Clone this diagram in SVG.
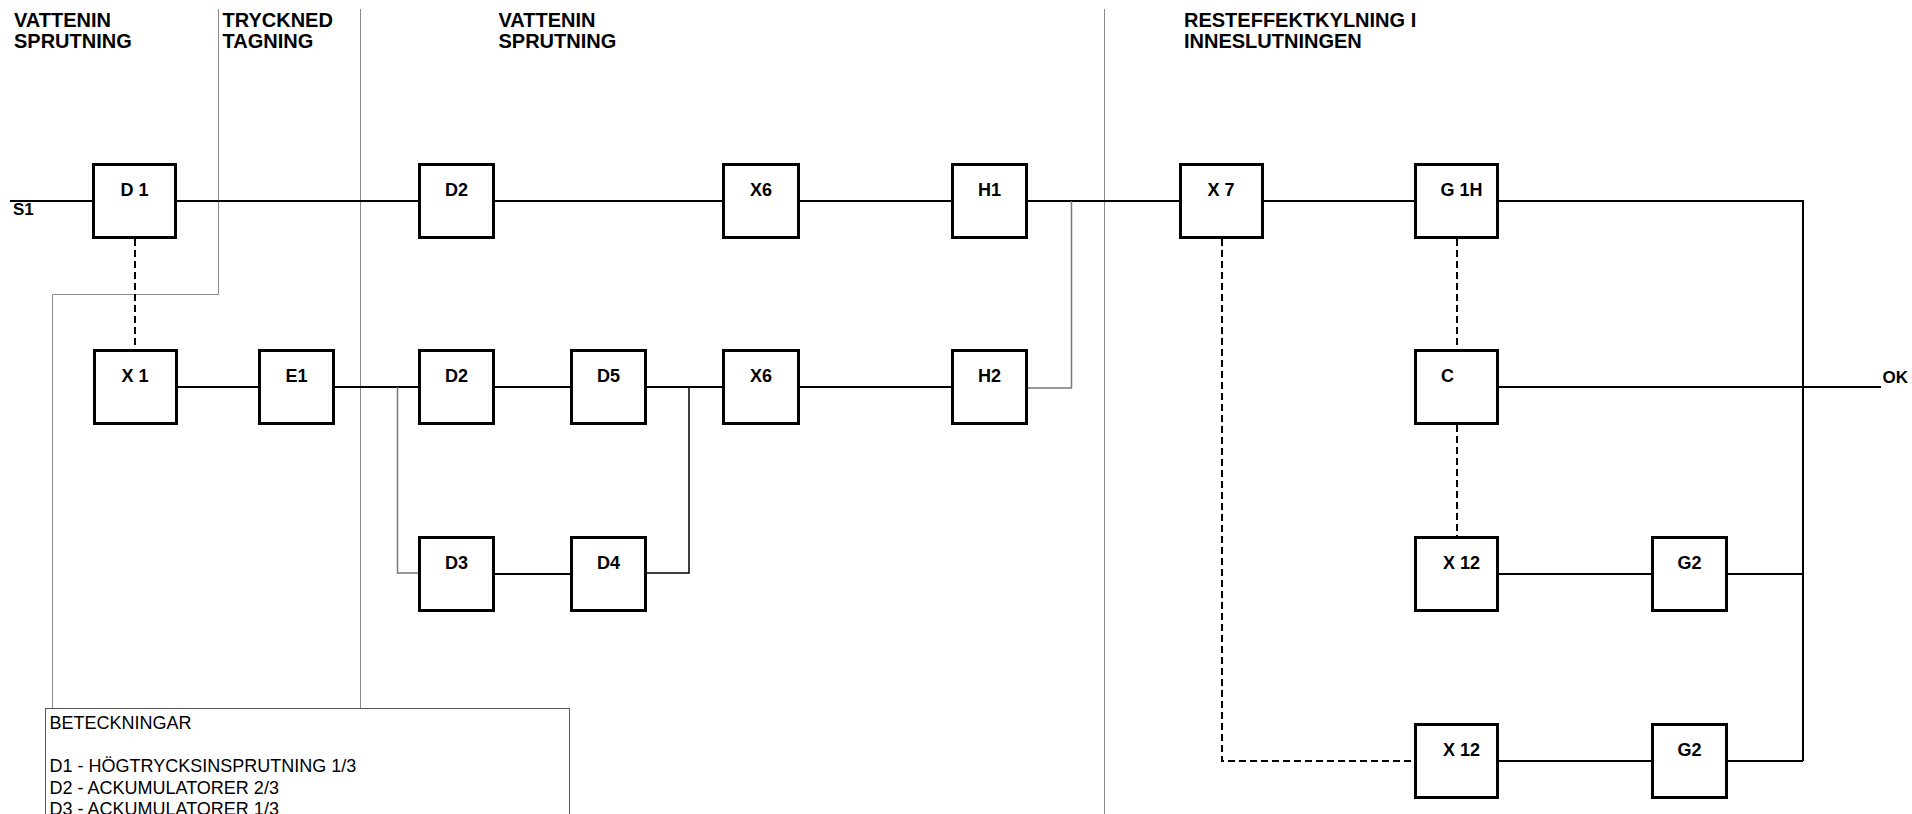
<svg xmlns="http://www.w3.org/2000/svg" width="1912" height="814" viewBox="0 0 1912 814">
  <style>
    .title { font-family: "Liberation Sans", Arial, sans-serif; font-size: 20px; font-weight: bold; fill: #000; }
    .lbl { font-family: "Liberation Sans", Arial, sans-serif; font-size: 18px; font-weight: bold; fill: #000; text-anchor: middle; }
    .tag { font-family: "Liberation Sans", Arial, sans-serif; font-size: 17px; font-weight: bold; fill: #000; }
    .legend { font-family: "Liberation Sans", Arial, sans-serif; font-size: 18px; fill: #000; }
    .box { fill: #fff; stroke: #000; stroke-width: 3; }
    .wire { fill: none; stroke: #000; stroke-width: 2; }
    .thin { fill: none; stroke: #000; stroke-width: 1.5; }
    .grey { fill: none; stroke: #777; stroke-width: 1.5; }
    .dash { fill: none; stroke: #000; stroke-width: 2; stroke-dasharray: 7 4; }
    .divider { fill: none; stroke: #8a8a8a; stroke-width: 1; }
  </style>

  <rect x="0" y="0" width="1912" height="814" fill="#fff"/>

  <!-- section dividers -->
  <g id="dividers">
    <polyline class="divider" points="218.5,9 218.5,294.5 52.5,294.5 52.5,708"/>
    <line class="divider" x1="360.5" y1="9" x2="360.5" y2="708"/>
    <line class="divider" x1="1104.5" y1="9" x2="1104.5" y2="814"/>
  </g>

  <!-- section headings -->
  <g id="headings">
    <text class="title" x="14" y="26.7">VATTENIN</text>
    <text class="title" x="14" y="48.3">SPRUTNING</text>
    <text class="title" x="222.5" y="26.7">TRYCKNED</text>
    <text class="title" x="222.5" y="48.3">TAGNING</text>
    <text class="title" x="498.5" y="26.7">VATTENIN</text>
    <text class="title" x="498.5" y="48.3">SPRUTNING</text>
    <text class="title" x="1184" y="26.7">RESTEFFEKTKYLNING I</text>
    <text class="title" x="1184" y="48.3">INNESLUTNINGEN</text>
  </g>

  <!-- connectors -->
  <g id="connectors">
    <!-- upper chain -->
    <line class="wire" x1="10" y1="201" x2="93" y2="201"/>
    <line class="wire" x1="177" y1="201" x2="418" y2="201"/>
    <line class="wire" x1="495" y1="201" x2="722" y2="201"/>
    <line class="wire" x1="800" y1="201" x2="951" y2="201"/>
    <line class="wire" x1="1028" y1="201" x2="1179" y2="201"/>
    <line class="wire" x1="1264" y1="201" x2="1414" y2="201"/>
    <polyline class="wire" points="1499,201 1803,201 1803,761"/>
    <!-- second chain -->
    <line class="wire" x1="177" y1="387" x2="258" y2="387"/>
    <line class="wire" x1="335" y1="387" x2="418" y2="387"/>
    <line class="wire" x1="495" y1="387" x2="570" y2="387"/>
    <line class="wire" x1="647" y1="387" x2="722" y2="387"/>
    <line class="wire" x1="800" y1="387" x2="951" y2="387"/>
    <!-- D3/D4 branch -->
    <polyline class="grey" points="397.5,387 397.5,573 418,573"/>
    <line class="wire" x1="495" y1="574" x2="570" y2="574"/>
    <polyline class="thin" points="647,573 689,573 689,387"/>
    <!-- H2 joins upper line -->
    <polyline class="grey" points="1028,388 1071.5,388 1071.5,201"/>
    <!-- right hand chains -->
    <line class="wire" x1="1499" y1="387" x2="1881" y2="387"/>
    <line class="wire" x1="1499" y1="574" x2="1651" y2="574"/>
    <line class="wire" x1="1728" y1="574" x2="1803" y2="574"/>
    <line class="wire" x1="1499" y1="761" x2="1651" y2="761"/>
    <line class="wire" x1="1728" y1="761" x2="1803" y2="761"/>
    <!-- dependencies -->
    <line class="dash" x1="135" y1="239" x2="135" y2="349"/>
    <line class="dash" x1="1457" y1="239" x2="1457" y2="349"/>
    <line class="dash" x1="1457" y1="425" x2="1457" y2="536"/>
    <polyline class="dash" points="1222,239 1222,761 1414,761"/>
  </g>

  <text class="tag" x="13" y="215">S1</text>
  <text class="tag" x="1882.5" y="382.5">OK</text>

  <!-- blocks -->
  <g id="D1"><rect class="box" x="93.5" y="164.5" width="82" height="73"/><text class="lbl" x="134.5" y="196">D 1</text></g>
  <g id="D2a"><rect class="box" x="419.5" y="164.5" width="74" height="73"/><text class="lbl" x="456.5" y="196">D2</text></g>
  <g id="X6a"><rect class="box" x="723.5" y="164.5" width="75" height="73"/><text class="lbl" x="761" y="196">X6</text></g>
  <g id="H1"><rect class="box" x="952.5" y="164.5" width="74" height="73"/><text class="lbl" x="989.5" y="196">H1</text></g>
  <g id="X7"><rect class="box" x="1180.5" y="164.5" width="82" height="73"/><text class="lbl" x="1221" y="196">X 7</text></g>
  <g id="G1H"><rect class="box" x="1415.5" y="164.5" width="82" height="73"/><text class="lbl" x="1461.5" y="196">G 1H</text></g>

  <g id="X1"><rect class="box" x="94.5" y="350.5" width="82" height="73"/><text class="lbl" x="135" y="382">X 1</text></g>
  <g id="E1"><rect class="box" x="259.5" y="350.5" width="74" height="73"/><text class="lbl" x="296.5" y="382">E1</text></g>
  <g id="D2b"><rect class="box" x="419.5" y="350.5" width="74" height="73"/><text class="lbl" x="456.5" y="382">D2</text></g>
  <g id="D5"><rect class="box" x="571.5" y="350.5" width="74" height="73"/><text class="lbl" x="608.5" y="382">D5</text></g>
  <g id="X6b"><rect class="box" x="723.5" y="350.5" width="75" height="73"/><text class="lbl" x="761" y="382">X6</text></g>
  <g id="H2"><rect class="box" x="952.5" y="350.5" width="74" height="73"/><text class="lbl" x="989.5" y="382">H2</text></g>
  <g id="C"><rect class="box" x="1415.5" y="350.5" width="82" height="73"/><text class="lbl" x="1447.5" y="382">C</text></g>

  <g id="D3"><rect class="box" x="419.5" y="537.5" width="74" height="73"/><text class="lbl" x="456.5" y="569">D3</text></g>
  <g id="D4"><rect class="box" x="571.5" y="537.5" width="74" height="73"/><text class="lbl" x="608.5" y="569">D4</text></g>
  <g id="X12a"><rect class="box" x="1415.5" y="537.5" width="82" height="73"/><text class="lbl" x="1461.5" y="569">X 12</text></g>
  <g id="G2a"><rect class="box" x="1652.5" y="537.5" width="74" height="73"/><text class="lbl" x="1689.5" y="569">G2</text></g>

  <g id="X12b"><rect class="box" x="1415.5" y="724.5" width="82" height="73"/><text class="lbl" x="1461.5" y="756">X 12</text></g>
  <g id="G2b"><rect class="box" x="1652.5" y="724.5" width="74" height="73"/><text class="lbl" x="1689.5" y="756">G2</text></g>

  <!-- legend -->
  <g id="legend">
    <rect x="45.5" y="708.5" width="524" height="120" fill="#fff" stroke="#555" stroke-width="1"/>
    <text class="legend" x="49.5" y="729">BETECKNINGAR</text>
    <text class="legend" x="49.5" y="772">D1 - HÖGTRYCKSINSPRUTNING 1/3</text>
    <text class="legend" x="49.5" y="793.5">D2 - ACKUMULATORER 2/3</text>
    <text class="legend" x="49.5" y="815">D3 - ACKUMULATORER 1/3</text>
  </g>
</svg>
